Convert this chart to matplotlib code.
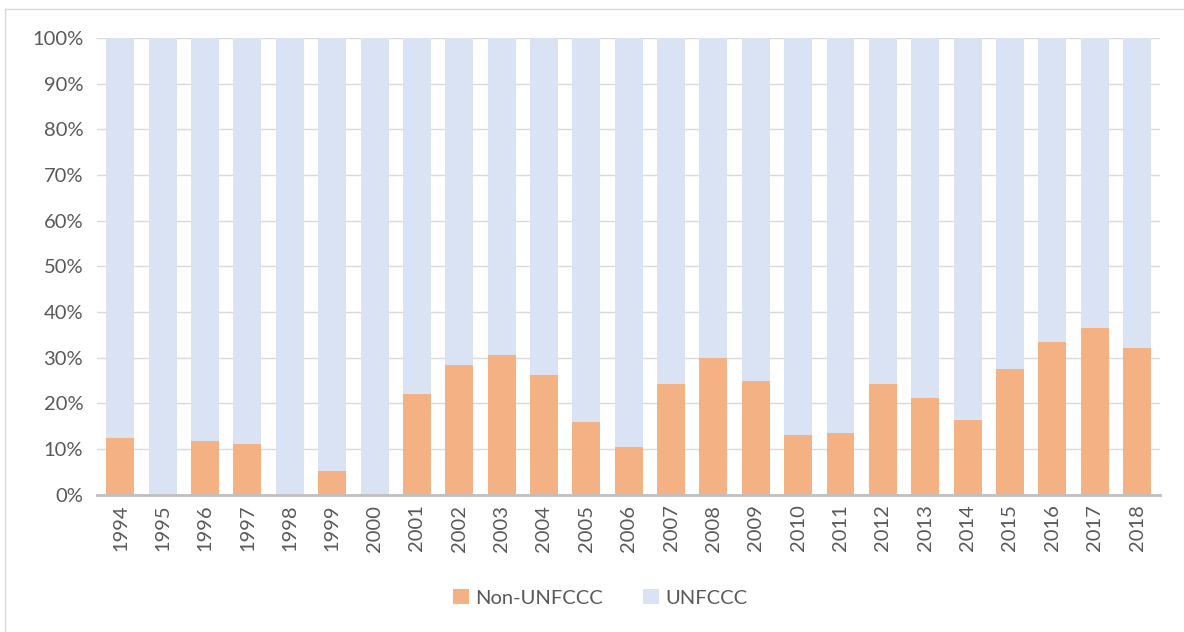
import numpy as np
import matplotlib.pyplot as plt
from matplotlib.lines import Line2D

# share of funding by year
years = [str(y) for y in range(1994, 2019)]
non_unfccc = [12.5, 0.0, 11.7, 11.2, 0.0, 5.3, 0.0, 22.0, 28.4, 30.6, 26.3, 16.0, 10.4,
              24.3, 30.0, 24.9, 13.1, 13.6, 24.3, 21.1, 16.3, 27.6, 33.5, 36.5, 32.2]
unfccc = [100 - v for v in non_unfccc]

orange = '#F4B183'
blue = '#DAE3F3'
txt = '#595959'

plt.rcParams['font.family'] = ['Lato', 'DejaVu Sans']

fig = plt.figure(figsize=(11.84, 6.32), dpi=100)
ax = fig.add_axes([0.082, 0.217, 0.898, 0.723])

x = np.arange(len(years))
ax.bar(x, non_unfccc, width=0.66, color=orange, label='Non-UNFCCC', zorder=3)
ax.bar(x, unfccc, width=0.66, bottom=non_unfccc, color=blue, label='UNFCCC', zorder=3)

ax.set_ylim(0, 100)
ax.set_xlim(-0.55, len(years) - 0.45)
ax.set_yticks(np.arange(0, 101, 10))
ax.set_yticklabels([f'{v}%' for v in range(0, 101, 10)])
ax.set_xticks(x)
ax.set_xticklabels(years, rotation=90)
ax.tick_params(axis='both', length=0, colors=txt, labelsize=14.5)
ax.tick_params(axis='y', pad=10)
ax.tick_params(axis='x', pad=7)
ax.grid(axis='y', color='#D9D9D9', linewidth=1, zorder=0)
for s in ['top', 'right', 'left']:
    ax.spines[s].set_visible(False)
ax.spines['bottom'].set_color('#BFBFBF')
ax.spines['bottom'].set_linewidth(2)
ax.spines['bottom'].set_zorder(4)

leg = fig.legend(loc='center', bbox_to_anchor=(0.507, 0.054), ncol=2, frameon=False,
                 fontsize=14.5, handlelength=0.8, handleheight=0.8, handletextpad=0.3,
                 columnspacing=2.0)
for t in leg.get_texts():
    t.set_color(txt)

# light outer frame
fig.add_artist(Line2D([0.004, 1.0], [0.986, 0.986], color='#D9D9D9', linewidth=1, transform=fig.transFigure))
fig.add_artist(Line2D([0.004, 0.004], [0.0, 0.986], color='#D9D9D9', linewidth=1, transform=fig.transFigure))

fig.savefig('out.png', dpi=100)
